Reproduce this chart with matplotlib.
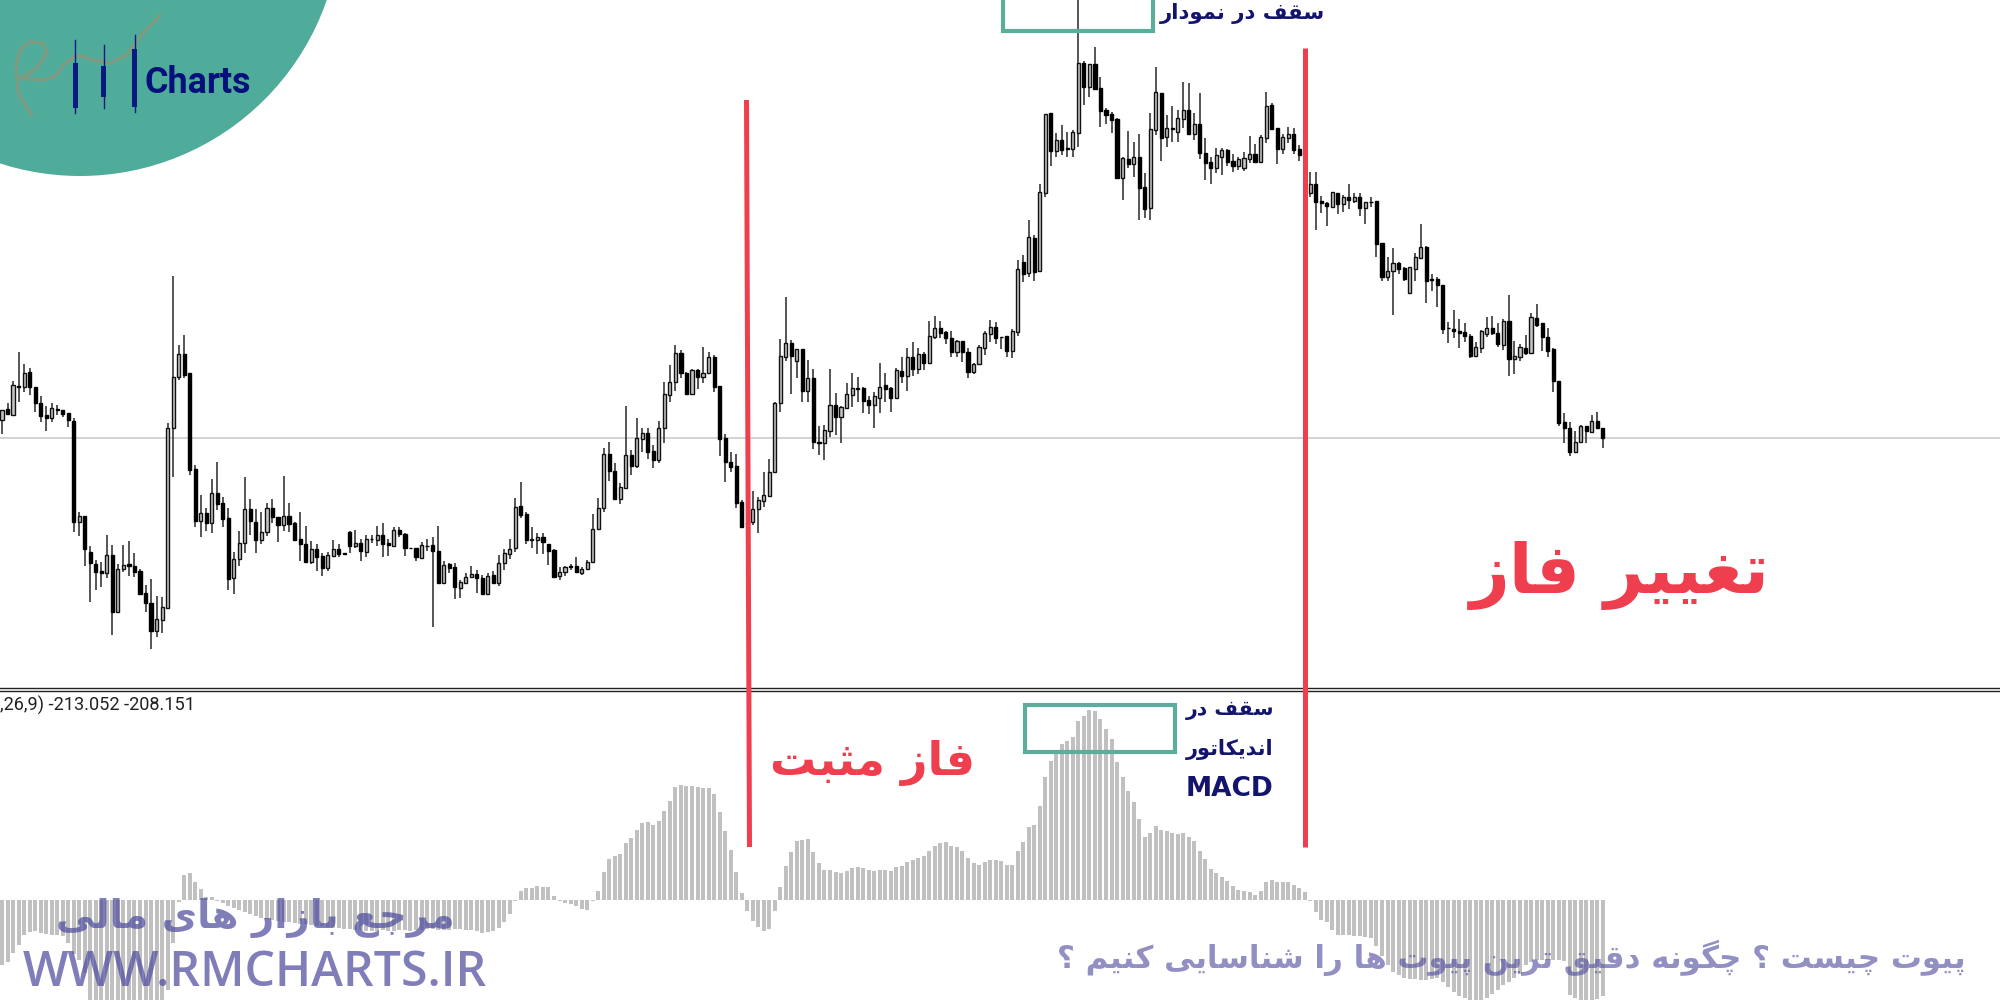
import matplotlib
matplotlib.use("Agg")
import matplotlib.pyplot as plt
from matplotlib.patches import Circle, Rectangle
import numpy as np

# ---------- price data (price units, one value per bar) ----------
body_top = [
290,290.7,315,314,327.3,327.7,312.7,297.3,285,291.7,
291,290,286.7,279.3,184,184,148.3,136,129,145,
145,131,135.3,135.7,134.3,129.3,106.7,97.3,80.7,92.7,
272.3,323.3,345.7,345.7,326.7,230.7,186.7,186.7,207.3,207.3,
196.7,181.7,141,157.3,190.7,190.7,178.3,168.3,192.3,192.3,
182.7,184,184,177.3,160.7,156,151,151.3,144,145,
150.7,150.7,146.7,168.3,157.3,157.3,160.7,161.3,164.7,164.7,
156.7,170,170,166,152.3,152.3,155,154.3,155,149.3,
135.3,136.3,133,117.7,123.3,126,126,122.3,124.3,125,
136.7,146.7,150.7,193.3,193.7,185.7,160.7,163.3,163,156,
150,128.3,132.7,134,134,131.3,138.3,171.3,192,246,
246,229.3,213.3,245,245,261.7,266.7,266.7,249,272.3,
305.7,317.7,346.7,346.7,327.3,330,330,327.3,342.7,342.7,
313.7,261.7,238,234,198,177.3,190.7,200,204.7,228.3,
297.3,344,356.7,356.7,351,351,322.3,322.3,258.3,269.7,
294.7,294.7,293,305.7,312.3,312.3,311.7,300,304,313.3,
315,311.7,330,329,342.7,342.7,345.7,345.7,363.7,371.7,
371.7,367.7,362,359.3,359.3,348.3,335.7,352.7,366.7,373.3,
373.3,363.3,364,369.3,431,438,463.3,461.7,508.3,585.7,
587.3,559.7,560,551.7,568.3,636.7,636.7,635.7,635.7,612.3,
590,586,580.7,541.7,541.3,543,543,513,570.7,608,
607,572,572.3,581.7,590,590,576,576.3,547.3,537.7,
544.7,550,550.3,539,540.7,542.3,545.7,545.7,563.3,594.3,
594.7,572,563,565.7,565.7,551,546.7,516,516,499,
497.3,507.7,507.3,503.3,503.3,503.3,503.3,497.7,498.3,499.3,
456.7,429.3,436.7,436.7,431.7,432.7,442.7,453.3,453.3,420.7,
420.7,415,372.3,370.7,369,367.7,364,352.7,369.3,371.7,
371.7,367.3,379,379,344,352.7,352.3,382.7,381.7,376.7,
363.3,350.7,319.3,277.7,272.3,258.3,274,274,279.3,279,
272.3]

body_bottom = [
280,286,285,313.3,313.3,313.3,296.7,284,281.7,281.7,
290,286,280,178.3,178.3,150.7,136.7,128.3,126.7,127.3,
88.3,88.3,131,134.3,128.3,106,96.7,69,69,80,
91.7,271.7,322.7,325,230,179.3,179.3,176.7,176.7,195.7,
180.7,121,121.7,141,157.3,179,160,160,168.3,183.3,
175,175,176,160,156,138.3,138.3,143.3,131.7,131.7,
144,146,146.3,154.3,154,149,148.3,160.7,160,156,
155,154,166,151.7,151.7,143.3,141.7,153.7,149,117.3,
117.3,132.3,113,112,116.7,122.7,121.7,105.7,106,117.3,
116.7,136.7,146,151.7,185,160,160,160,157.7,149.3,
123.3,124,128.3,133,127.7,126.7,131.3,137.7,171.3,191.7,
229,201,200.7,212.3,234.3,234.3,260.7,248.3,240,240,
271.7,305,317.7,327.3,305.7,306,323.3,323.3,326.7,313.3,
260.7,237.7,233.3,197.3,173.3,176,178,190.7,198.7,204,
227.7,296.7,343.3,344,339.3,309.3,309.3,258.3,257,256.7,
269.3,282.7,282.7,292.3,305,310.7,299.3,295.3,295.3,302.3,
310.7,301.7,301.7,324,324,331,331,336.7,336.7,362.7,
367.3,361.7,347.7,347.7,347.7,328.3,328.3,335.7,352,366,
361.7,362.7,349,349.3,368.3,426,426.7,428.3,429,507.3,
549.3,549.3,550,551,551,567.3,612.7,612.7,611,589.3,
585,580,521.7,521.7,536,535.7,512.3,491,491.7,570,
561.7,563.3,571,568.3,581,565.7,565.7,546.7,537.3,531.7,
531.7,542.7,538.3,534.3,534,531.7,540.7,537.7,538,562,
571,550.7,550.7,561.7,550,545,545.7,507.3,498.3,497.3,
494,492.7,495.7,496,500,499.3,491.7,491.7,497.7,456,
422.7,423.3,429.3,430.7,420.7,407,430.7,441.7,419.3,420,
415,371,371.7,368.7,367,364.3,344.3,344.3,351.7,365.7,
367.3,355.7,355,340.7,340.7,343.3,347.3,347.3,375,363.3,
349,319,276.7,271.7,247.7,247.7,257.7,269,268.3,271.7,
262.3]

highs = [
290,297.3,319.3,348.3,336,331.7,313.3,304,294,297.3,
294.7,290,287.3,281.7,188.3,184,154,140,138.3,165,
155,136,155,159.3,146.7,130.7,115,120.7,104,102.7,
276.7,424.3,355,365,326.7,235,205,191.7,221,238.3,
203.3,191.7,148.3,169.3,222.7,200.7,190.7,188.3,196.7,200.7,
182.7,224,196.7,178.3,188.3,174.3,159.3,156,146.7,148.3,
160,156,146.7,169.3,170,160.7,165,165,174,176.7,
160.7,173.3,173.3,166.7,152.3,152.3,158.3,160.7,163.3,174.3,
139.3,137.3,137.3,120,127.3,134,130,125,127.3,129.3,
145,151,160.7,201.7,218.3,188.3,172.7,166.7,167.3,156,
150.7,133.3,134,136,142.7,133.3,140,185.7,202.3,251.7,
258.3,236.7,217.3,294.3,250,282.3,272.3,271.7,255,279.3,
318,335,355,350,328.3,330.7,330.7,352.7,348.3,345,
314,265.7,247.7,246,200,183.3,209.3,202.7,228.3,240.7,
298.3,361,403.3,360,351,351,340,330.7,274,275,
330.7,307.3,294,316.7,326.7,323.3,312.7,304,308.3,337.3,
326.7,312.7,331.7,342.7,352.3,358.3,352.3,348.3,379,384.3,
379,369.3,369.3,360,359.3,352.3,336.7,355,369,380,
377.7,363.3,364.3,370.7,440,445,480,465,515.7,585.7,
587.3,566.7,575,568.3,570,700,639,636,653.3,623.3,
591.7,588.3,581.7,542.7,569.3,558.3,565.7,526.7,587.3,633.3,
607.3,585,594.3,590,617.7,616.7,586.7,606.7,561.7,543.3,
551.7,551.7,551,546,543.3,548.3,564,556,565,607.7,
596.7,572,565.7,572.7,572.3,555,550,527.7,527.7,504,
498.3,508.3,507.3,505,515.7,507.3,507.3,498.3,503.3,499.3,
457.3,442.7,452.3,438.3,433.3,433.3,446.7,475.7,454,425.7,
423.3,415,377.7,390,380.7,376.7,366,358.3,370,383.3,
384.3,377.3,380.7,405,359.3,356,365,386.7,395.7,377.3,
371.7,351.7,319.3,286.7,278.3,269.3,275,274,285,287.7,
272.3]

lows = [
266,285,284,298.3,308.3,305,288.3,278.3,269,278.3,
285,283.3,273.3,168.3,164,134,98.3,110,112.7,121.7,
65,88.3,128.3,124,122.7,105,88.3,50.7,63.3,67.3,
90.7,223.3,320,321.7,225,172.7,162.7,169.3,166.7,190,
172.7,110,106,134,147.3,165,147.3,155.7,164,176.7,
158.3,169.3,168.3,159.3,139.3,137.3,136,129.3,124,129.3,
143.3,142.7,146.3,147.3,151.7,139.3,143.3,156.7,154,143.3,
144,152.7,163.3,144.3,151.7,139,140.7,149.3,73.3,117.3,
116.7,126.7,100.7,102.3,116,121.7,107.3,105,106,116.7,
114,130,140.7,147.7,182.3,156,151.7,146,146,135,
122.7,120,124,130,126.7,125,130.7,136.7,170.7,187.7,
219.3,200,196,211.7,225,231.7,248.3,240.7,231.7,237.3,
256.7,298.3,309,321.7,305,306,310.7,316.7,325.7,307.7,
244,217.7,227.7,191.7,172.3,173.3,175,166.7,193.3,202.7,
226.7,288.3,339.3,306,321.7,297.7,298.3,251,245,240,
263.3,265,256.7,291,292.7,297.7,286.7,285.7,271.7,286.7,
297.7,288.3,300.7,317.3,309.3,324.3,325.7,330,335.7,361,
361.7,356,343.3,343.3,338.3,321.7,325.7,335,345,357.7,
356,350.7,343.3,342.3,363.7,417.7,423.3,419.3,429,503.3,
534,542.7,545,543.3,543.3,553.3,595,603.3,610,572.7,
575.7,567.3,521.7,500,531.7,523.3,480,481.7,480,565,
539.3,553.3,558.3,558.3,571.7,565,560,540.7,520,516,
526.7,525,534,528.3,530,529.3,536.7,536.7,536.7,557.3,
570,535.7,546,556.7,546,539.3,543.3,503.3,470,487.3,
474.3,492.7,486,488.3,491,496.7,484,476,493.3,442.7,
419.3,419.3,385,426,419.3,406.7,419.3,441.7,397.3,409.3,
392.7,366,357.3,361.7,351.7,358.3,341.7,342.7,347.3,362.7,
365,352.7,350,324,325.7,339.3,345,347.3,372.7,349.3,
343.3,307.7,274.3,257.3,244,246.7,257.3,257.3,267.3,270.7,
252.3]

direction = ("UDUDUDDDDU" "DDDDUDDDDU" "DUUDDDDDUU" "UUUDDDUDUD" "DDUUUDDUUD"
             "DUDDDDUDDU" "UDDDUDUDUD" "DUDDDDUUDD" "UDDUUUDDUD" "UUUUDDUUDD"
             "DUUDDUUUUU" "DDUUDUUDDU" "UUUDDUDUUD" "DDDDDDUUUU" "UUUDUDUDDU"
             "UDUUUDDDUU" "DDUDUDUDUU" "DDDUDDUUUU" "DDDUUDUDUU" "DUDDUUDUDD"
             "DDDUDUDDUU" "DUDUUDUDDD" "UUDDUUUDUU" "DDUUDDDUDD" "DUDUDUDUDD"
             "DUUDDUUUDD" "DDDDDDDUUU" "DDUDUUDUDD" "DDDDDUUDUD" "D")

# ---------- MACD histogram ----------
macd = [
-65,-62,-53,-45,-35,-32,-31,-33,-34,-35,
-35,-36,-43,-54,-60,-73,-102,-106,-110,-112,
-112,-112,-110,-108,-108,-108,-110,-112,-112,-108,
-90,-43,-2,25,27,18,11,3,3,-1,
-3,-6,-8,-10,-12,-14,-16,-18,-19,-20,
-21,-22,-22,-23,-24,-24,-25,-26,-26,-27,
-28,-28,-29,-29,-30,-30,-31,-31,-31,-30,
-31,-31,-30,-30,-31,-30,-30,-29,-29,-30,
-30,-30,-29,-29,-30,-30,-31,-33,-32,-31,
-28,-22,-14,-1,9,12,12,14,13,13,
4,-1,-3,-4,-6,-9,-10,-1,9,28,
41,44,46,57,62,70,77,78,75,79,
89,99,113,115,114,114,113,112,112,106,
88,69,50,28,7,-11,-21,-27,-31,-29,
-11,13,34,48,59,60,61,48,37,30,
30,28,27,29,32,33,32,30,29,30,
30,29,33,34,38,40,42,44,49,54,
57,58,54,53,49,42,37,35,38,40,
40,39,35,35,49,58,73,75,94,123,
139,148,156,159,163,179,184,190,189,181,
171,161,138,123,109,98,81,63,67,74,
70,69,67,66,67,63,59,49,41,31,
27,23,19,14,10,9,8,5,9,18,
20,18,18,18,15,12,8,-1,-12,-20,
-22,-30,-35,-35,-35,-36,-36,-37,-38,-46,
-56,-65,-72,-75,-78,-79,-79,-80,-80,-79,
-78,-82,-87,-92,-96,-98,-100,-102,-100,-98,
-94,-90,-85,-82,-78,-74,-65,-62,-60,-60,
-60,-60,-60,-61,-95,-98,-100,-102,-101,-99,
-96]

reference_price = 262.5

macd_legend = ",26,9) -213.052 -208.151"
label_top = "سقف در نمودار"
label_macd = ["سقف در", "اندیکاتور", "MACD"]
label_positive = "فاز مثبت"
label_change = "تغییر فاز"
footer_left = "مرجع بازار های مالی"
footer_site = "WWW.RMCHARTS.IR"
footer_right = "پیوت چیست ؟ چگونه دقیق ترین پیوت ها را شناسایی کنیم ؟"
logo_word = "Charts"

assert all(len(s) == 291 for s in (body_top, body_bottom, highs, lows, macd, direction))

# ---------- Persian shaping: matplotlib has no text shaper ----------
FOUR = {"ب":0xFE8F,"ت":0xFE95,"ث":0xFE99,"ج":0xFE9D,"س":0xFEB1,"ش":0xFEB5,"ع":0xFEC9,"غ":0xFECD,
        "ف":0xFED1,"ق":0xFED5,"ل":0xFEDD,"م":0xFEE1,"ن":0xFEE5,"ه":0xFEE9,
        "پ":0xFB56,"چ":0xFB7A,"ک":0xFB8E,"گ":0xFB92,"ی":0xFBFC}
TWO = {"ا":0xFE8D,"د":0xFEA9,"ر":0xFEAD,"ز":0xFEAF,"و":0xFEED}

def shape(s):
    out = []
    for i, c in enumerate(s):
        prev = s[i-1] if i else " "
        nxt = s[i+1] if i + 1 < len(s) else " "
        joins_prev = prev in FOUR
        joins_next = nxt in FOUR or nxt in TWO
        if c in FOUR:
            base = FOUR[c]
            if joins_prev and joins_next:
                out.append(chr(base + 3))
            elif joins_prev:
                out.append(chr(base + 1))
            elif joins_next:
                out.append(chr(base + 2))
            else:
                out.append(chr(base))
        elif c in TWO:
            out.append(chr(TWO[c] + (1 if joins_prev else 0)))
        else:
            out.append(c)
    return "".join(reversed(out))

# ---------- layout ----------
W, H = 2000, 1000
fig = plt.figure(figsize=(20, 10), dpi=100, facecolor="white")
STEP, X0 = 5.52, 2.0
xlim = (-X0 / STEP, (W - X0) / STEP)
xs = np.arange(len(highs))

ax = fig.add_axes([0, 1 - 686 / H, 1, 686 / H])
ax.set_xlim(*xlim)
ax.set_ylim(14, 700)
ax.axis("off")
ax.axhline(reference_price, color="#c6c6c6", lw=1.1, zorder=1)

top, bot = np.array(body_top), np.array(body_bottom)
up = np.array([d == "U" for d in direction])
ax.vlines(xs, lows, highs, color="#303030", lw=1.15, zorder=2)
ax.bar(xs[up], np.maximum(top - bot, .6)[up], bottom=bot[up], width=0.56,
       facecolor="#c4c4c4", edgecolor="#111111", linewidth=1.0, zorder=3)
ax.bar(xs[~up], np.maximum(top - bot, .6)[~up], bottom=bot[~up], width=0.56,
       facecolor="black", edgecolor="black", linewidth=1.0, zorder=3)

ax2 = fig.add_axes([0, 0, 1, 309 / H])
ax2.set_xlim(*xlim)
ax2.set_ylim(-100, 209)
ax2.axis("off")
ax2.bar(xs, macd, width=0.72, color="#c0c0c0", linewidth=0, zorder=2)

# overlay in picture units for the annotations
ov = fig.add_axes([0, 0, 1, 1], facecolor="none")
ov.set_xlim(0, W)
ov.set_ylim(H, 0)
ov.axis("off")

# separator between the panes
ov.plot([0, W], [687.5, 687.5], color="#222222", lw=1.0, zorder=4)
ov.plot([0, W], [690.5, 690.5], color="#222222", lw=1.0, zorder=4)

# logo
TEAL = "#4fac9a"
ov.add_patch(Circle((80, -85), 261, facecolor=TEAL, edgecolor="none", zorder=5))
NAVY = "#0a1a80"
scribble = np.array([(480,45),(420,110),(380,165),(330,190),(280,180),(230,165),(190,195),(165,230),
                     (130,240),(60,235),(110,205),(140,160),(130,130),(90,125),(60,150),(48,200),
                     (55,280),(95,345)]) / 3
ov.plot(scribble[:, 0], scribble[:, 1], color="#7f9a80", lw=2.4, zorder=6, solid_capstyle="round")
for cx, wt, bt, bb, wb in [(75, 40, 63, 108, 113), (103.7, 45, 66, 97, 108), (134.7, 35, 49, 107, 112)]:
    ov.plot([cx, cx], [wt, wb], color=NAVY, lw=1.0, zorder=7)
    ov.add_patch(Rectangle((cx - 2.5, bt), 5, bb - bt, facecolor=NAVY, edgecolor="none", zorder=7))

renderer = fig.canvas.get_renderer()

def place(text, x0, x1, yc, color, family, weight="normal", alpha=1.0, z=10):
    t = ov.text(x0, yc, text, color=color, family=family, fontweight=weight, alpha=alpha,
                ha="left", va="center", fontsize=20, zorder=z)
    bb = t.get_window_extent(renderer)
    t.set_fontsize(20 * (x1 - x0) / bb.width)
    bb = t.get_window_extent(renderer)
    t.set_x(x0 + ((x1 - x0) - bb.width) / 2)
    return t

place(logo_word, 145, 251, 83, "#06107a", "Roboto", "bold")

# red phase lines
RED = "#ef3f4f"
ov.plot([746.5, 749.5], [100, 847], color=RED, lw=3.6, zorder=8, solid_capstyle="butt")
ov.plot([1304.5, 1304.5], [48, 847], color=RED, lw=3.6, zorder=8, solid_capstyle="butt")

# teal boxes
BOX = "#5cae9c"
ov.add_patch(Rectangle((1003, -10), 150, 41, fill=False, edgecolor=BOX, lw=3.0, zorder=9))
ov.add_patch(Rectangle((1025, 705), 150, 47, fill=False, edgecolor=BOX, lw=3.0, zorder=9))

# labels
TXT = "#14146e"
place(shape(label_top), 1160, 1325, 13, TXT, "DejaVu Sans", "bold")
place(shape(label_macd[0]), 1186, 1274, 710, TXT, "DejaVu Sans", "bold")
place(shape(label_macd[1]), 1186, 1274, 750, TXT, "DejaVu Sans", "bold")
place(label_macd[2], 1186, 1274, 789, TXT, "DejaVu Sans", "bold")
place(shape(label_positive), 770, 975, 763, RED, "DejaVu Sans", "bold")
place(shape(label_change), 1470, 1770, 575, RED, "DejaVu Sans", "bold")

# indicator legend
place(macd_legend, 0, 195, 705, "#222222", "Roboto")

# footer
FOOT = "#4f4d9f"
place(shape(footer_left), 57, 454, 918, FOOT, "DejaVu Sans", "bold", alpha=0.72)
place(footer_site, 23, 487, 973, FOOT, "Open Sans", "semibold", alpha=0.72)
place(shape(footer_right), 1059, 1964, 958, FOOT, "DejaVu Sans", "bold", alpha=0.62)

fig.savefig("out.png", dpi=100, facecolor="white")
